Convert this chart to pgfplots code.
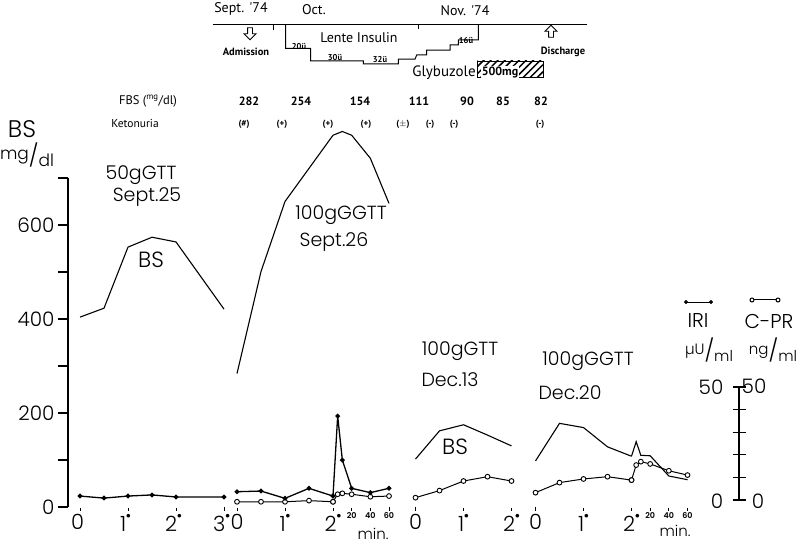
\documentclass[border=0pt]{standalone}
\usepackage{fontspec}
\IfFontExistsTF{Poppins Light}{\setmainfont{Poppins Light}}{\setmainfont{Poppins}}
\newfontfamily\handfont{PT Sans}
\usepackage{graphicx}
\usepackage{pgfplots}
\pgfplotsset{compat=1.18}
\usetikzlibrary{patterns.meta,shapes.arrows}

\newcommand{\fs}[1]{\fontsize{#1}{#1}\selectfont}
\newcommand{\hr}[1]{#1\raisebox{0.62em}{\scalebox{0.45}{$\bullet$}}}
% unit written as a slanted fraction
\newcommand{\unitfrac}[2]{\raisebox{4pt}{#1}{\fs{22}/}\raisebox{-3pt}{#2}}

\pgfplotsset{
  every axis/.append style={/pgf/number format/assume math mode=true},
  panel/.style={
    anchor=south west, scale only axis, height=329pt, ymin=0, ymax=700, clip=false,
    hide y axis, axis x line*=bottom,
    x axis line style={double, double distance=1.1pt, line width=0.7pt},
    tick align=outside, major tick length=4pt,
    xtick style={line width=1pt, black},
    xticklabel style={font=\fs{21}},
  },
  hourpanel/.style={panel, xmin=0, xmax=2, width=96pt, xtick={0,1,2}},
  minpanel/.style={panel, xmin=0, xmax=60, width=56pt, xtick={20,40,60},
    xticklabel style={font=\fs{8}\bfseries, inner sep=1pt}},
  bs/.style={black, line width=1.1pt, mark=none},
  iri/.style={black, line width=1.3pt, mark=*, mark size=1.7pt, y filter/.expression={4.85*y}},
  cpr/.style={black, line width=1pt, mark=*, mark size=2.4pt,
    mark options={fill=white, line width=0.9pt}, y filter/.expression={4.85*y}},
}

\begin{document}
\begin{tikzpicture}[x=1pt, y=1pt]
\useasboundingbox (0,0) rectangle (802,544);

% ---- blood sugar scale (mg/dl) ----
\begin{axis}[at={(68pt,37pt)}, anchor=south west, scale only axis, width=1pt, height=329pt,
  xmin=0, xmax=1, ymin=0, ymax=700, hide x axis, axis y line*=left,
  y axis line style={line width=1.6pt}, ytick={0,100,...,700},
  yticklabels={0,,200,,400,,600,}, tick align=outside, major tick length=10pt,
  ytick style={line width=1.2pt, black}, yticklabel style={font=\fs{20}}]
\addplot[draw=none] coordinates {(0,0)};
\end{axis}

% ---- 50 g GTT, Sept. 25 ----
\begin{axis}[panel, at={(80pt,37pt)}, xmin=0, xmax=3, width=144pt,
  xtick={0,1,2,3}, xticklabels={0,\hr{1},\hr{2},\hr{3}}, xticklabel style={xshift=-2.5pt}]
\addplot[bs] coordinates {(0,404)(0.5,423)(1,553)(1.5,574)(2,564)(3,421)};
\addplot[iri] coordinates {(0,4.8)(0.5,3.9)(1,4.8)(1.5,5.3)(2,4.4)(3,4.4)};
\end{axis}

% ---- 100 g GGTT, Sept. 26: hours, then minutes after glucagon ----
\begin{axis}[hourpanel, at={(237pt,37pt)}, xticklabels={0,\hr{1},\hr{2}}]
\addplot[bs] coordinates {(0,284)(0.5,501)(1,650)(2,791)};
\addplot[cpr] coordinates {(0,2.3)(0.5,2.3)(1,2.3)(1.5,2.8)(2,2.3)};
\addplot[iri] coordinates {(0,6.7)(0.5,7.0)(1,3.8)(1.5,8.2)(2,4.8)};
\end{axis}
\begin{axis}[minpanel, at={(333pt,37pt)}]
\addplot[bs] coordinates {(0,791)(5,795)(10,799)(20,791)(40,742)(60,646)};
\addplot[cpr] coordinates {(0,2.3)(5,5.6)(10,6.0)(20,5.6)(40,4.5)(60,4.8)};
\addplot[iri] coordinates {(0,4.8)(5,39.9)(10,20.6)(20,8.2)(40,6.3)(60,8.2)};
\end{axis}

% ---- 100 g GTT, Dec. 13 ----
\begin{axis}[hourpanel, at={(415.5pt,37pt)}, xticklabels={0,\hr{1},\hr{2}}]
\addplot[bs] coordinates {(0,102)(0.5,162)(1,175)(1.5,153)(2,130)};
\addplot[cpr] coordinates {(0,4.1)(0.5,7.2)(1,11.4)(1.5,13.3)(2,11.4)};
\end{axis}

% ---- 100 g GGTT, Dec. 20 ----
\begin{axis}[hourpanel, at={(535.5pt,37pt)}, xticklabels={0,\hr{1},\hr{2}}]
\addplot[bs] coordinates {(0,98)(0.5,178)(1,169)(1.5,128)(2,108)};
\addplot[cpr] coordinates {(0,6.3)(0.5,10.7)(1,12.3)(1.5,13.3)(2,11.8)};
\end{axis}
\begin{axis}[minpanel, at={(631.5pt,37pt)}]
\addplot[bs] coordinates {(0,108)(5,139)(10,110)(20,109)(40,66)(60,58)};
\addplot[cpr] coordinates {(0,11.8)(5,18.4)(10,19.9)(20,18.9)(40,15.9)(60,14.0)};
\end{axis}

% ---- IRI / C-PR scale with key ----
\begin{axis}[at={(739pt,44pt)}, anchor=south west, scale only axis, width=100pt, height=113pt,
  xmin=0, xmax=100, ymin=0, ymax=50, hide x axis, axis y line*=left, clip=false,
  y axis line style={line width=1.6pt}, ytick={0,10,...,50}, yticklabels={},
  tick align=center, major tick length=13pt, ytick style={line width=1.2pt, black}]
\addplot[black, line width=1pt, mark=*, mark size=1.5pt] coordinates {(-53,87.6)(-28,87.6)};
\addplot[black, line width=1pt, mark=*, mark size=2pt, mark options={fill=white}] coordinates {(13,88.5)(39,88.5)};
\end{axis}

% ---- treatment course ----
\begin{axis}[at={(200pt,519pt)}, anchor=north west, scale only axis, width=400pt, height=54pt,
  xmin=200, xmax=600, ymin=0, ymax=45, y dir=reverse, hide x axis, hide y axis, clip=false]
\addplot[black, line width=1pt] coordinates {(213,0)(587,0)};
\addplot[black, line width=0.8pt] coordinates {(273,0)(273,4)};
\addplot[black, line width=0.8pt] coordinates {(418,0)(418,3)};
\addplot[black, line width=1pt] coordinates {(285.7,0)(285.7,19.5)(310.7,19.5)(310.7,30)(363.3,30)
  (363.3,32.5)(398.3,32.5)(398.3,28.5)(415,28.5)(416.7,25)(426.7,25)(426.7,21)(450,21)
  (450,16.5)(458.3,16.5)(458.3,12.5)(478.3,12.5)(478.3,0)};
\addplot[black, line width=0.9pt, pattern={Lines[angle=45,distance=5pt,line width=1.5pt]}]
  coordinates {(477,30)(543,30)(543,43.3)(477,43.3)(477,30)};
\end{axis}

% ---- labels ----
\node[font=\fs{24}] at (22,415) {BS};
\node[font=\fs{17}] at (27,389) {\unitfrac{mg}{dl}};

\node[font=\fs{19}] at (141,369) {50gGTT};
\node[font=\fs{19}] at (147,347) {Sept.25};
\node[font=\fs{22}] at (151,284) {BS};
\node[font=\fs{19}] at (341,329) {100gGGTT};
\node[font=\fs{19}] at (334,302) {Sept.26};
\node[font=\fs{19}] at (460,193) {100gGTT};
\node[font=\fs{19}] at (450,164) {Dec.13};
\node[font=\fs{22}] at (455,97) {BS};
\node[font=\fs{19}] at (588,183) {100gGGTT};
\node[font=\fs{19}] at (570,151) {Dec.20};
\node[font=\fs{15}] at (373,10) {min.};
\node[font=\fs{15}] at (675,13) {min.};

\node[font=\fs{20}] at (698,223) {IRI};
\node[font=\fs{20}] at (769,223) {C-PR};
\node[font=\fs{15}] at (709,194) {\unitfrac{µU}{ml}};
\node[font=\fs{15}] at (773,194) {\unitfrac{ng}{ml}};
\node[font=\fs{20}] at (711,157) {50};
\node[font=\fs{20}] at (754,158) {50};
\node[font=\fs{20}] at (717,43) {0};
\node[font=\fs{20}] at (758,43) {0};

% ---- fasting blood sugar and ketonuria ----
\node[font=\handfont\fs{12.5}] at (148,443) {FBS (\textsuperscript{mg}/dl)};
\node[font=\handfont\fs{11.5}] at (135,421) {Ketonuria};
\begin{scope}[every node/.style={font=\handfont\bfseries\fs{12}}]
\node at (249,443) {282};
\node at (301,443) {254};
\node at (360,443) {154};
\node at (419,443) {111};
\node at (467,443) {90};
\node at (503,443) {85};
\node at (541,443) {82};
\end{scope}
\begin{scope}[every node/.style={font=\handfont\bfseries\fs{9}}]
\node at (244,420) {(\#)};
\node at (282,420) {(+)};
\node at (328,420) {(+)};
\node at (366,420) {(+)};
\node at (403,420) {($\pm$)};
\node at (430,420) {(-)};
\node at (454,420) {(-)};
\node at (540,420) {(-)};
\end{scope}

% ---- course annotations ----
\node[font=\handfont\fs{14}] at (241,535) {Sept. '74};
\node[font=\handfont\fs{14}] at (314,534) {Oct.};
\node[font=\handfont\fs{14}] at (465,533) {Nov. '74};
\node[font=\handfont\fs{14}] at (359,506) {Lente Insulin};
\node[font=\handfont\bfseries\fs{8.5}] at (299,498) {20ü};
\node[font=\handfont\bfseries\fs{8.5}] at (335,487) {30ü};
\node[font=\handfont\bfseries\fs{8.5}] at (380,485) {32ü};
\node[font=\handfont\bfseries\fs{8.5}] at (466,504) {16ü};
\node[font=\handfont\bfseries\fs{10.5}] at (246,492) {Admission};
\node[font=\handfont\bfseries\fs{10.5}] at (563,492) {Discharge};
\node[font=\handfont\fs{15}] at (444,471) {Glybuzole};
\node[font=\handfont\bfseries\fs{12}, fill=white, inner sep=0.3pt] at (500,472) {500mg};
\node[single arrow, draw, line width=0.9pt, shape border rotate=270, minimum height=12pt,
  single arrow head extend=3.5pt, inner sep=2pt] at (250,511.5) {};
\node[single arrow, draw, line width=0.9pt, shape border rotate=90, minimum height=12pt,
  single arrow head extend=3.5pt, inner sep=2pt] at (551,511.5) {};
\end{tikzpicture}
\end{document}
